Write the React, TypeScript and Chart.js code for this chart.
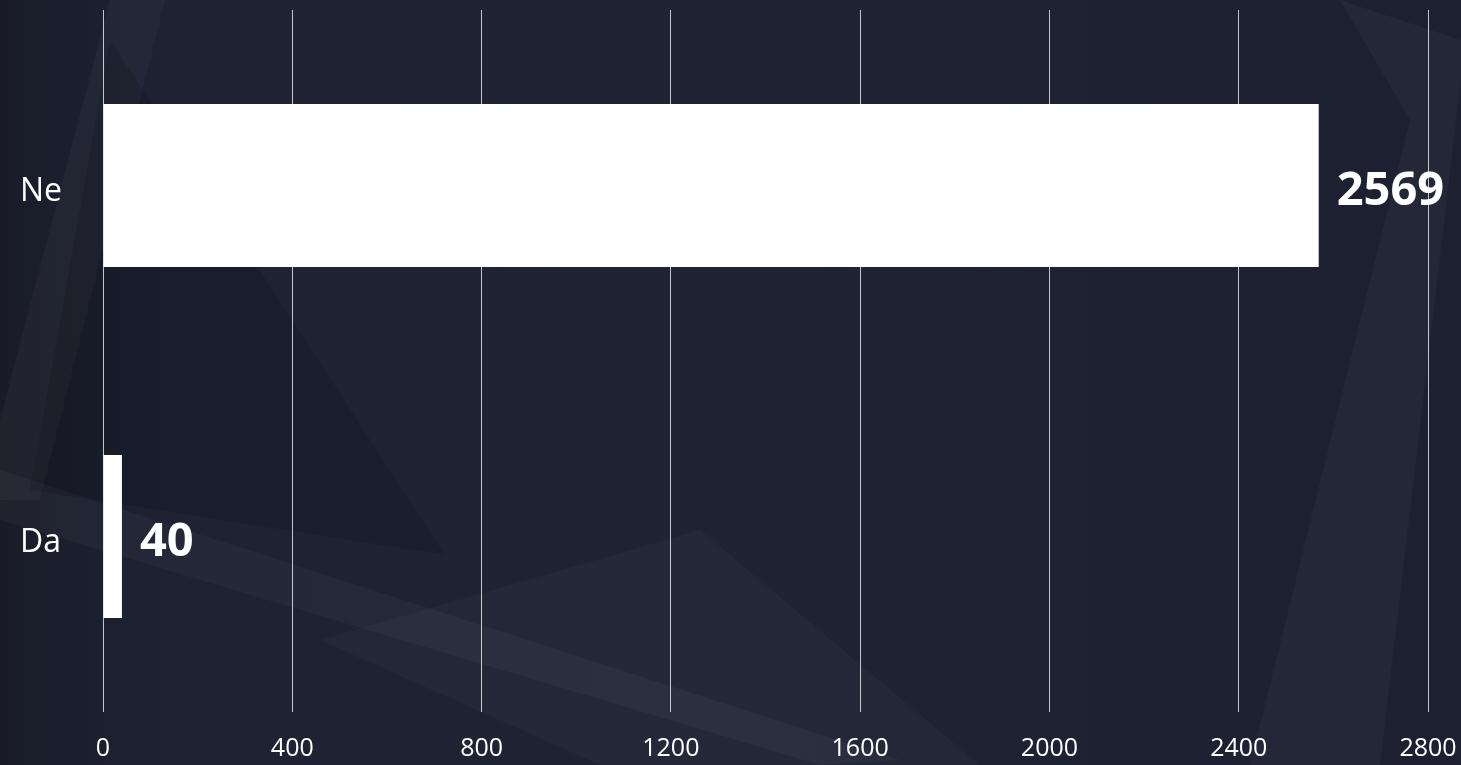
import React, { useEffect, useRef } from "react";
import { Chart, registerables } from "chart.js";

Chart.register(...registerables);

const categories = ["Ne", "Da"];
const values = [2569, 40];
const xMax = 2800;
const xStep = 400;

const bgPlugin = {
  id: "bgDecor",
  beforeDraw(chart: any) {
    const { ctx, width, height } = chart;
    ctx.save();
    const g = ctx.createLinearGradient(0, 0, width, 0);
    g.addColorStop(0, "#191c28");
    g.addColorStop(0.12, "#1e2233");
    g.addColorStop(0.5, "#1f2435");
    g.addColorStop(1, "#1c2030");
    ctx.fillStyle = g;
    ctx.fillRect(0, 0, width, height);
    ctx.fillStyle = "rgba(255,255,255,0.03)";
    // left tilted frame
    ctx.beginPath();
    ctx.moveTo(110, 0); ctx.lineTo(165, 0); ctx.lineTo(40, 500); ctx.lineTo(0, 500); ctx.lineTo(0, 420);
    ctx.closePath(); ctx.fill();
    // lower diagonal band
    ctx.beginPath();
    ctx.moveTo(0, 470); ctx.lineTo(900, 760); ctx.lineTo(820, 765); ctx.lineTo(0, 520);
    ctx.closePath(); ctx.fill();
    // right tilted band
    ctx.beginPath();
    ctx.moveTo(1340, 0); ctx.lineTo(1461, 40); ctx.lineTo(1461, 80); ctx.lineTo(1380, 765); ctx.lineTo(1250, 765); ctx.lineTo(1410, 120);
    ctx.closePath(); ctx.fill();
    // faint triangle
    ctx.fillStyle = "rgba(255,255,255,0.025)";
    ctx.beginPath();
    ctx.moveTo(320, 640); ctx.lineTo(700, 530); ctx.lineTo(980, 765); ctx.lineTo(600, 765);
    ctx.closePath(); ctx.fill();
    // dark shape left
    ctx.fillStyle = "rgba(0,0,0,0.12)";
    ctx.beginPath();
    ctx.moveTo(110, 40); ctx.lineTo(445, 555); ctx.lineTo(30, 490);
    ctx.closePath(); ctx.fill();
    ctx.restore();
  },
};

const labelPlugin = {
  id: "valueLabels",
  afterDatasetsDraw(chart: any) {
    const { ctx } = chart;
    const meta = chart.getDatasetMeta(0);
    ctx.save();
    ctx.fillStyle = "#ffffff";
    ctx.font = "bold 47px 'Open Sans'";
    ctx.textAlign = "left";
    ctx.textBaseline = "middle";
    meta.data.forEach((bar: any, i: number) => {
      ctx.fillText(String(values[i]), bar.x + 18, bar.y + 6);
    });
    ctx.restore();
  },
};

export default function App() {
  const ref = useRef<HTMLCanvasElement | null>(null);
  useEffect(() => {
    const chart = new Chart(ref.current as HTMLCanvasElement, {
      type: "bar",
      data: {
        labels: categories,
        datasets: [
          {
            data: values,
            backgroundColor: "#ffffff",
            borderWidth: 0,
            barPercentage: 0.93,
            categoryPercentage: 0.5,
          },
        ],
      },
      options: {
        indexAxis: "y",
        animation: false,
        responsive: false,
        maintainAspectRatio: false,
        layout: { padding: { left: 20, right: 33, top: 10, bottom: 0 } },
        plugins: { legend: { display: false }, tooltip: { enabled: false } },
        scales: {
          x: {
            min: 0,
            max: xMax,
            ticks: {
              stepSize: xStep,
              color: "#ffffff",
              font: { family: "'Open Sans'", size: 25 },
              padding: 22,
              maxRotation: 0,
              callback: (v: any) => String(v),
            },
            grid: { color: "rgba(255,255,255,0.75)", lineWidth: 1, drawTicks: false },
            border: { display: false },
            afterFit(scale: any) {
              scale.height = 53;
              scale.paddingTop = 0;
              scale.paddingBottom = 0;
              scale.paddingLeft = 0;
              scale.paddingRight = 0;
            },
          },
          y: {
            ticks: {
              color: "#ffffff",
              font: { family: "'Open Sans'", size: 32 },
              crossAlign: "far",
              labelOffset: 6,
            },
            grid: { display: false },
            border: { display: false },
            afterFit(scale: any) {
              scale.width = 83;
              scale.paddingTop = 0;
              scale.paddingBottom = 0;
            },
          },
        },
      },
      plugins: [bgPlugin, labelPlugin],
    } as any);
    return () => chart.destroy();
  }, []);
  return (
    <div style={{ position: "fixed", left: 0, top: 0, width: 1461, height: 765 }}>
      <canvas ref={ref} width={1461} height={765} style={{ display: "block" }} />
    </div>
  );
}
